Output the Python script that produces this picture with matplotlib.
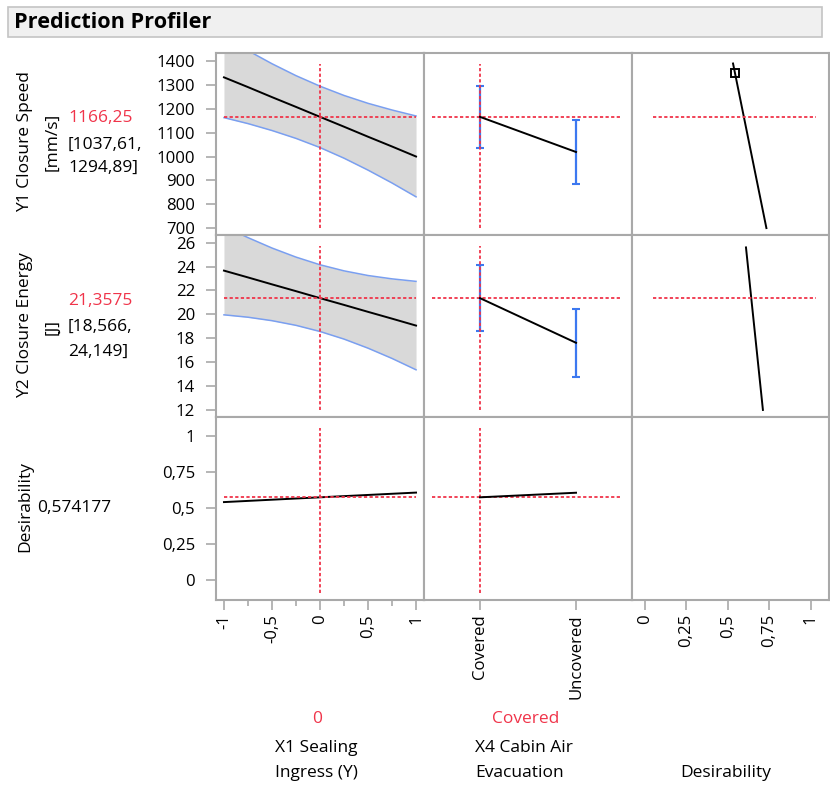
import matplotlib
matplotlib.use("Agg")
import matplotlib.pyplot as plt
from matplotlib.patches import Rectangle

plt.rcParams['font.family'] = ['Open Sans', 'DejaVu Sans']

W, H = 830, 787

# X1 Sealing Ingress profile
x1_grid = [-1, -0.75, -0.5, -0.25, 0, 0.25, 0.5, 0.75, 1]
y1_pred = [1332, 1291, 1249, 1208, 1166.25, 1125, 1083, 1042, 1000]
y1_upper = [1502, 1444, 1389, 1339, 1294.89, 1256, 1223, 1195, 1170]
y1_lower = [1163, 1138, 1109, 1076, 1037.61, 993, 943, 889, 831]
y2_pred = [23.66, 23.09, 22.51, 21.94, 21.3575, 20.79, 20.21, 19.64, 19.06]
y2_upper = [27.36, 26.42, 25.55, 24.79, 24.149, 23.64, 23.25, 22.97, 22.76]
y2_lower = [19.96, 19.76, 19.47, 19.08, 18.566, 17.93, 17.17, 16.31, 15.36]
x1_desir_grid = [-1, 0, 1]
x1_desir = [0.541, 0.574177, 0.607]

# X4 Cabin Air Evacuation profile
x4_levels = ['Covered', 'Uncovered']
x4_y1 = [1166.25, 1019]
x4_y1_lo = [1037.61, 884]
x4_y1_hi = [1294.89, 1153]
x4_y2 = [21.3575, 17.62]
x4_y2_lo = [18.566, 14.76]
x4_y2_hi = [24.149, 20.48]
x4_desir = [0.574177, 0.606]

# desirability functions
d1_y = [1390, 700]
d1_d = [0.532, 0.733]
d1_handle = (0.543, 1352)
d2_y = [25.6, 12.0]
d2_d = [0.610, 0.712]

current = {'Y1': 1166.25, 'Y2': 21.3575, 'D': 0.574177}

RED = '#f0344a'
GRID = '#a9a9a9'
BAND = '#d9d9d9'
BAND_EDGE = '#7a9ff0'
EBAR = '#3c78f0'
FS = 12.5      # labels
TFS = 12.1     # tick labels

fig = plt.figure(figsize=(W / 100, H / 100), dpi=100)


def px_box(x0, y0, x1, y1):
    return [x0 / W, 1 - y1 / H, (x1 - x0) / W, (y1 - y0) / H]


def ftext(x, y, s, **kw):
    kw.setdefault('fontsize', FS)
    fig.text(x / W, 1 - y / H, s, **kw)


# title bar
fig.patches.append(Rectangle((8 / W, 1 - 37 / H), 814 / W, 30 / H, transform=fig.transFigure,
                             facecolor='#f0f0f0', edgecolor='#c4c4c4', lw=1.2))
ftext(14, 22, 'Prediction Profiler', fontsize=15.6, fontweight='bold', va='center', ha='left')

cols = [(216, 424), (424, 632), (632, 829)]
rows = [(53, 235), (235, 417), (417, 600)]
xlims = [(-1.083, 1.083), (-0.583, 1.583), (-0.0765, 1.11)]
ylims = [(671, 1434), (11.41, 26.64), (-0.139, 1.132)]

axes = {}
for r, (y0, y1) in enumerate(rows):
    for c, (x0, x1) in enumerate(cols):
        ax = fig.add_axes(px_box(x0, y0, x1, y1))
        ax.set_xlim(*xlims[c])
        ax.set_ylim(*ylims[r])
        for sp in ax.spines.values():
            sp.set_color(GRID)
            sp.set_linewidth(1.5)
        ax.tick_params(colors=GRID, labelcolor='black', labelsize=TFS, length=6.5, width=1.2)
        ax.set_xticks([])
        ax.set_yticks([])
        axes[r, c] = ax


def crosshair(ax, x=None, y=None, xspan=(0.038, 0.962)):
    style = dict(color=RED, lw=1.3, dashes=(1.8, 1.3), zorder=4)
    if x is not None:
        ax.axvline(x, ymin=0.04, ymax=0.94, **style)
    if y is not None:
        ax.axhline(y, xmin=xspan[0], xmax=xspan[1], **style)


# column 1: X1 Sealing Ingress
for r, (pred, lo, hi, cur) in enumerate([(y1_pred, y1_lower, y1_upper, current['Y1']),
                                          (y2_pred, y2_lower, y2_upper, current['Y2'])]):
    ax = axes[r, 0]
    ax.fill_between(x1_grid, lo, hi, color=BAND, lw=0, zorder=1)
    ax.plot(x1_grid, hi, color=BAND_EDGE, lw=1.1, zorder=2)
    ax.plot(x1_grid, lo, color=BAND_EDGE, lw=1.1, zorder=2)
    ax.plot(x1_grid, pred, color='black', lw=1.4, zorder=3)
    crosshair(ax, 0, cur)
ax = axes[2, 0]
ax.plot(x1_desir_grid, x1_desir, color='black', lw=1.4, zorder=3)
crosshair(ax, 0, current['D'])

# column 2: X4 Cabin Air Evacuation
x4_pos = list(range(len(x4_levels)))
for r, (pred, lo, hi, cur) in enumerate([(x4_y1, x4_y1_lo, x4_y1_hi, current['Y1']),
                                          (x4_y2, x4_y2_lo, x4_y2_hi, current['Y2'])]):
    ax = axes[r, 1]
    err = [[p - l for p, l in zip(pred, lo)], [h - p for p, h in zip(pred, hi)]]
    ax.errorbar(x4_pos, pred, yerr=err, fmt='none', ecolor=EBAR, elinewidth=1.6,
                capsize=3, capthick=1.5, zorder=3)
    ax.plot(x4_pos, pred, color='black', lw=1.4, zorder=5)
    crosshair(ax, 0, cur, xspan=(0.038, 0.942))
ax = axes[2, 1]
ax.plot(x4_pos, x4_desir, color='black', lw=1.4, zorder=5)
crosshair(ax, 0, current['D'], xspan=(0.038, 0.942))

# column 3: desirability functions
ax = axes[0, 2]
ax.plot(d1_d, d1_y, color='black', lw=1.4, zorder=3)
ax.plot(*d1_handle, marker='s', ms=5.5, mfc='none', mec='black', mew=1.4, zorder=4)
crosshair(ax, None, current['Y1'], xspan=(0.105, 0.934))
ax = axes[1, 2]
ax.plot(d2_d, d2_y, color='black', lw=1.4, zorder=3)
crosshair(ax, None, current['Y2'], xspan=(0.105, 0.934))

# y ticks on the left column
axes[0, 0].set_yticks(range(700, 1401, 100))
axes[1, 0].set_yticks(range(12, 27, 2))
axes[2, 0].set_yticks([0, 0.25, 0.5, 0.75, 1], ['0', '0,25', '0,5', '0,75', '1'])
for r in range(3):
    axes[r, 0].tick_params(axis='y', pad=8, length=7)

# x ticks on the bottom row
ax = axes[2, 0]
ax.set_xticks([-1, -0.5, 0, 0.5, 1], ['-1', '-0,5', '0', '0,5', '1'], rotation=90)
ax.set_xticks([-0.75, -0.25, 0.25, 0.75], minor=True)
ax.tick_params(axis='x', which='minor', length=4, width=1.2, colors=GRID)
ax = axes[2, 1]
ax.set_xticks(x4_pos, x4_levels, rotation=90)
ax = axes[2, 2]
ax.set_xticks([0, 0.25, 0.5, 0.75, 1], ['0', '0,25', '0,5', '0,75', '1'], rotation=90)
for c in range(3):
    axes[2, c].tick_params(axis='x', which='major', length=7, pad=3)

# row labels
rot = dict(rotation=90, ha='center', va='center')
ftext(25, 142, 'Y1 Closure Speed', **rot)
ftext(52, 142, '[mm/s]', **rot)
ftext(68, 118, '1166,25', color=RED, va='center')
ftext(68, 145, '[1037,61,', va='center')
ftext(68, 168, '1294,89]', va='center')

ftext(25, 325, 'Y2 Closure Energy', **rot)
ftext(52, 327, '[J]', **rot)
ftext(68, 301, '21,3575', color=RED, va='center')
ftext(68, 327, '[18,566,', va='center')
ftext(68, 352, '24,149]', va='center')

ftext(25, 506, 'Desirability', **rot)
ftext(37, 508, '0,574177', va='center')

# factor labels
ftext(317, 719, '0', color=RED, ha='center', va='center')
ftext(275, 748, 'X1 Sealing', va='center')
ftext(275, 773, 'Ingress (Y)', va='center')
ftext(526, 719, 'Covered', color=RED, ha='center', va='center')
ftext(475, 748, 'X4 Cabin Air', va='center')
ftext(475, 773, 'Evacuation', va='center')
ftext(726, 773, 'Desirability', ha='center', va='center')

fig.savefig('out.png', dpi=100)
plt.close(fig)
